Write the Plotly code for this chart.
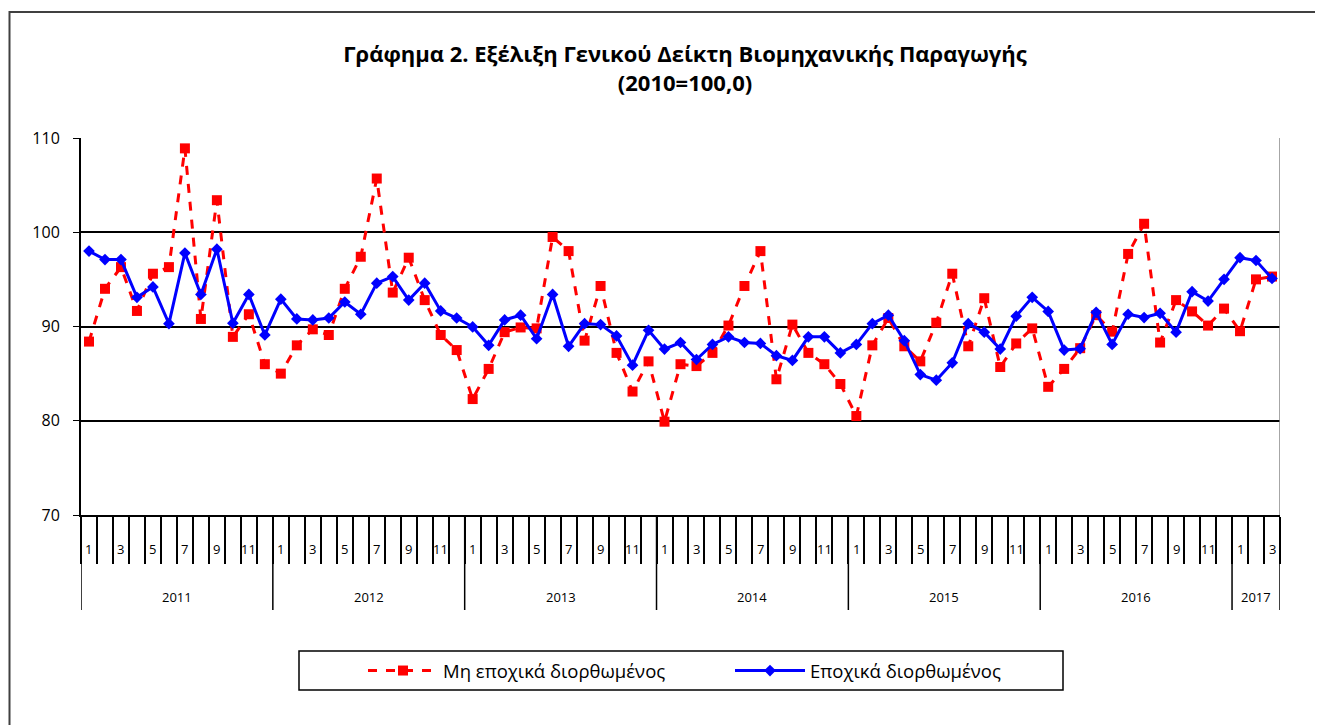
import plotly.graph_objects as go

years = ["2011", "2012", "2013", "2014", "2015", "2016", "2017"]
months_per_year = [12, 12, 12, 12, 12, 12, 3]

non_sa = [88.4, 94.0, 96.3, 91.65, 95.6, 96.3, 108.9, 90.8, 103.4, 88.9, 91.3, 86.0,
          85.0, 88.0, 89.7, 89.1, 94.0, 97.4, 105.7, 93.6, 97.3, 92.8, 89.1, 87.5,
          82.3, 85.5, 89.4, 89.9, 89.8, 99.5, 98.0, 88.5, 94.3, 87.2, 83.1, 86.3,
          79.9, 86.0, 85.8, 87.2, 90.1, 94.3, 98.0, 84.4, 90.2, 87.2, 86.0, 83.9,
          80.5, 88.0, 90.9, 87.9, 86.3, 90.4, 95.6, 87.9, 93.0, 85.7, 88.2, 89.8,
          83.6, 85.5, 87.7, 91.2, 89.45, 97.7, 100.9, 88.3, 92.8, 91.6, 90.1, 91.9,
          89.5, 95.0, 95.3]

sa = [98.0, 97.1, 97.1, 93.1, 94.2, 90.3, 97.8, 93.4, 98.2, 90.35, 93.4, 89.1,
      92.9, 90.8, 90.7, 90.9, 92.6, 91.3, 94.6, 95.3, 92.8, 94.6, 91.65, 90.9,
      89.95, 88.0, 90.7, 91.2, 88.7, 93.4, 87.9, 90.3, 90.2, 89.0, 85.9, 89.6,
      87.6, 88.3, 86.5, 88.1, 88.9, 88.3, 88.2, 86.9, 86.4, 88.9, 88.9, 87.2,
      88.1, 90.3, 91.2, 88.5, 84.9, 84.3, 86.15, 90.3, 89.4, 87.6, 91.1, 93.1,
      91.6, 87.5, 87.65, 91.5, 88.1, 91.3, 90.95, 91.4, 89.4, 93.7, 92.7, 95.0,
      97.3, 97.0, 95.1]

y_ticks = [70, 80, 90, 100, 110]

title_text = "Γράφημα 2. Εξέλιξη Γενικού Δείκτη Βιομηχανικής Παραγωγής<br>(2010=100,0)"
name_non_sa = "Μη εποχικά διορθωμένος"
name_sa = "Εποχικά διορθωμένος"

# build month index
month_nums = []
for y, n in zip(years, months_per_year):
    for m in range(1, n + 1):
        month_nums.append(m)
xs = list(range(len(month_nums)))
n_cat = len(xs)

FONT = "Open Sans"
# page body has an 8px margin; figure is placed at (8, 8)
W, H = 1315, 717
L, T = 73, 130
PW, PH = 1199, 377


def px_x(x):  # page x -> paper x
    return (x - 8 - L) / PW


def px_y(y):  # page y -> paper y
    return 1 - (y - 8 - T) / PH


fig = go.Figure()
fig.add_trace(go.Scatter(
    x=xs, y=non_sa, name=name_non_sa, mode="lines+markers",
    line=dict(color="#FF0000", width=3, dash="dash"),
    marker=dict(symbol="square", size=10, color="#FF0000"),
))
fig.add_trace(go.Scatter(
    x=xs, y=sa, name=name_sa, mode="lines+markers",
    line=dict(color="#0000FF", width=3),
    marker=dict(symbol="diamond", size=9, color="#0000FF"),
))

shapes = []
annotations = []
start = 0
for y, n in zip(years, months_per_year):
    shapes.append(dict(type="line", xref="x", yref="paper",
                       x0=start - 0.5, x1=start - 0.5, y0=0, y1=px_y(610),
                       line=dict(color="black", width=1.5)))
    annotations.append(dict(x=start + (n - 1) / 2, y=px_y(597), xref="x", yref="paper",
                            text=y, showarrow=False,
                            font=dict(family=FONT, size=13, color="black"),
                            yanchor="middle"))
    start += n
shapes.append(dict(type="line", xref="x", yref="paper",
                   x0=start - 0.5, x1=start - 0.5, y0=0, y1=px_y(610),
                   line=dict(color="black", width=1.5)))
shapes.append(dict(type="line", xref="x", yref="paper",
                   x0=start - 0.5, x1=start - 0.5, y0=0, y1=1,
                   line=dict(color="#888888", width=1.5)))
# outer chart border
shapes.append(dict(type="rect", xref="paper", yref="paper",
                   x0=px_x(9.5), x1=px_x(1400), y0=px_y(800), y1=px_y(12),
                   line=dict(color="#404040", width=2), layer="below"))
# legend frame
shapes.append(dict(type="rect", xref="paper", yref="paper",
                   x0=px_x(299), x1=px_x(1063), y0=px_y(690), y1=px_y(651),
                   line=dict(color="black", width=1.5), fillcolor="rgba(0,0,0,0)"))

for x, m in zip(xs, month_nums):
    if m % 2 == 1:
        annotations.append(dict(x=x, y=px_y(549), xref="x", yref="paper",
                                text=str(m), showarrow=False,
                                font=dict(family=FONT, size=13, color="black"),
                                yanchor="middle"))

fig.update_layout(
    width=W, height=H,
    margin=dict(l=L, r=W - L - PW, t=T, b=H - T - PH),
    paper_bgcolor="white", plot_bgcolor="white",
    font=dict(family=FONT, color="black"),
    title=dict(text=title_text, x=(685 - 8) / W, xanchor="center",
               y=1 - (62 - 8) / H, yanchor="top",
               font=dict(family=FONT, size=22, color="black", weight="bold")),
    showlegend=True,
    legend=dict(orientation="h", x=px_x(363), xanchor="left",
                y=px_y(671), yanchor="middle",
                borderwidth=0, bgcolor="rgba(0,0,0,0)",
                font=dict(family=FONT, size=18.5, color="black"),
                entrywidth=282, itemwidth=70),
    shapes=shapes,
    annotations=annotations,
)
fig.update_xaxes(
    range=[-0.5, n_cat - 0.5], showgrid=False, zeroline=False,
    showline=True, linecolor="black", linewidth=2,
    tickmode="array", tickvals=[i - 0.5 for i in range(n_cat + 1)],
    ticks="outside", ticklen=47, tickwidth=1.5, tickcolor="black",
    showticklabels=False,
)
fig.update_yaxes(
    range=[70, 110], tickmode="array", tickvals=y_ticks,
    showgrid=True, gridcolor="black", gridwidth=1.5, zeroline=False,
    showline=True, linecolor="black", linewidth=2,
    ticks="outside", ticklen=6, tickcolor="black",
    tickfont=dict(family=FONT, size=16, color="black"),
    ticklabelstandoff=10,
)

fig.write_html("out.html")
